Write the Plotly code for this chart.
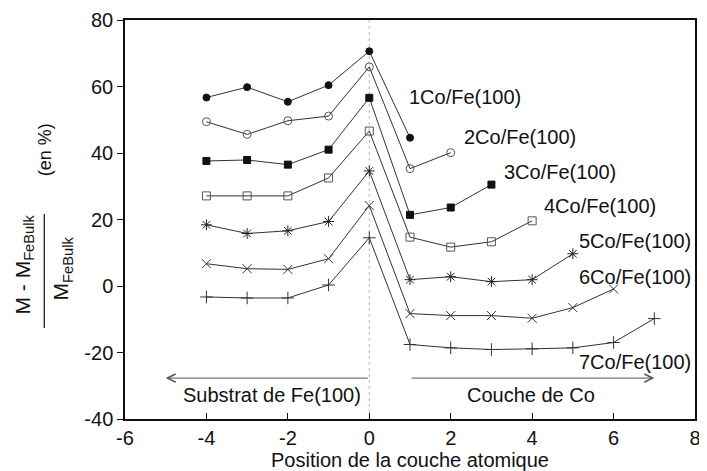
import plotly.graph_objects as go

# ---- data ----
positions = [
    [-4, -3, -2, -1, 0, 1],
    [-4, -3, -2, -1, 0, 1, 2],
    [-4, -3, -2, -1, 0, 1, 2, 3],
    [-4, -3, -2, -1, 0, 1, 2, 3, 4],
    [-4, -3, -2, -1, 0, 1, 2, 3, 4, 5],
    [-4, -3, -2, -1, 0, 1, 2, 3, 4, 5, 6],
    [-4, -3, -2, -1, 0, 1, 2, 3, 4, 5, 6, 7],
]
s1 = [56.7, 59.8, 55.4, 60.4, 70.6, 44.6]
s2 = [49.4, 45.6, 49.7, 51.1, 65.9, 35.3, 40.1]
s3 = [37.6, 37.9, 36.5, 41.0, 56.6, 21.4, 23.6, 30.5]
s4 = [27.1, 27.1, 27.1, 32.5, 46.6, 14.7, 11.7, 13.3, 19.6]
s5 = [18.4, 15.8, 16.6, 19.4, 34.6, 1.9, 2.8, 1.3, 1.9, 9.7]
s6 = [6.7, 5.2, 5.0, 8.2, 24.2, -8.3, -8.9, -8.9, -9.7, -6.5, -0.9]
s7 = [-3.3, -3.6, -3.6, 0.3, 14.5, -17.6, -18.6, -19.1, -18.9, -18.6, -17.0, -9.8]
series_values = [s1, s2, s3, s4, s5, s6, s7]
series_names = ["1Co/Fe(100)", "2Co/Fe(100)", "3Co/Fe(100)", "4Co/Fe(100)",
                "5Co/Fe(100)", "6Co/Fe(100)", "7Co/Fe(100)"]
x_ticks = [-6, -4, -2, 0, 2, 4, 6, 8]
x_ticktext = ["-6", "-4", "-2", "0", "2", "4", "6", "8"]
y_ticks = [-40, -20, 0, 20, 40, 60, 80]
y_ticktext = ["-40", "-20", "0", "20", "40", "60", "80"]

# ---- styles ----
symbols = ["circle", "circle-open", "square", "square-open",
           "asterisk-open", "x-thin-open", "cross-thin-open"]
msizes = [7, 8, 7, 8, 9, 9, 9]
mcolors = ["#111", "#555", "#111", "#555", "#222", "#333", "#333"]
label_pos = [(0.93, 56.8), (2.27, 44.8), (3.25, 34.3), (4.23, 24.1),
             (5.09, 13.5), (5.09, 2.7), (5.09, -22.9)]

FONT = "Liberation Sans, Arial, sans-serif"

fig = go.Figure()
for xs, ys, name, sym, ms, mc in zip(positions, series_values, series_names,
                                     symbols, msizes, mcolors):
    fig.add_trace(go.Scatter(
        x=xs, y=ys, name=name, mode="lines+markers",
        line=dict(color="#333", width=1),
        marker=dict(symbol=sym, size=ms, color=mc,
                    line=dict(color=mc, width=1)),
        showlegend=False,
    ))

annotations = []
for name, (lx, ly) in zip(series_names, label_pos):
    annotations.append(dict(x=lx, y=ly, xref="x", yref="y", text=name,
                            showarrow=False, xanchor="left", yanchor="middle",
                            font=dict(size=20, color="#111", family=FONT)))

# region arrows
annotations.append(dict(x=-5.0, y=-27.7, ax=0, ay=-27.7, xref="x", yref="y",
                        axref="x", ayref="y", text="", showarrow=True,
                        arrowhead=5, arrowsize=1.6, arrowwidth=1,
                        arrowcolor="#555"))
annotations.append(dict(x=7.0, y=-27.7, ax=1.0, ay=-27.7, xref="x", yref="y",
                        axref="x", ayref="y", text="", showarrow=True,
                        arrowhead=5, arrowsize=1.6, arrowwidth=1,
                        arrowcolor="#555"))
annotations.append(dict(x=-2.38, y=-32.8, xref="x", yref="y",
                        text="Substrat de Fe(100)", showarrow=False,
                        xanchor="center", yanchor="middle",
                        font=dict(size=20, color="#111", family=FONT)))
annotations.append(dict(x=3.98, y=-32.8, xref="x", yref="y",
                        text="Couche de Co", showarrow=False,
                        xanchor="center", yanchor="middle",
                        font=dict(size=20, color="#111", family=FONT)))

# y-axis fraction title
annotations.append(dict(x=-0.178, y=0.386, xref="paper", yref="paper",
                        text="M - M<sub>FeBulk</sub>", textangle=-90,
                        showarrow=False, xanchor="center", yanchor="middle",
                        font=dict(size=21, color="#111", family=FONT)))
annotations.append(dict(x=-0.110, y=0.378, xref="paper", yref="paper",
                        text="M<sub>FeBulk</sub>", textangle=-90,
                        showarrow=False, xanchor="center", yanchor="middle",
                        font=dict(size=21, color="#111", family=FONT)))
annotations.append(dict(x=-0.140, y=0.674, xref="paper", yref="paper",
                        text="(en %)", textangle=-90,
                        showarrow=False, xanchor="center", yanchor="middle",
                        font=dict(size=18, color="#111", family=FONT)))

shapes = [
    dict(type="line", xref="x", yref="y", x0=0, x1=0, y0=-40, y1=80,
         line=dict(color="#bbb", width=1, dash="dot"), layer="below"),
    dict(type="line", xref="paper", yref="paper", x0=-0.1416, x1=-0.1416,
         y0=0.228, y1=0.514, line=dict(color="#111", width=1.2)),
]

# the page body adds an 8px offset; the figure is sized to fit the window
fig.update_layout(
    width=699, height=463,
    margin=dict(l=117, r=12, t=12, b=52, autoexpand=False),
    paper_bgcolor="white", plot_bgcolor="white",
    font=dict(family=FONT, size=20, color="#111"),
    annotations=annotations, shapes=shapes,
    xaxis=dict(range=[-6, 8], tickvals=x_ticks, ticktext=x_ticktext,
               ticks="inside", ticklen=6, ticklabeloverflow="allow",
               tickcolor="#111", showline=True, linecolor="#111", linewidth=1.5,
               mirror=True, showgrid=False, zeroline=False,
               tickfont=dict(size=20),
               title=dict(text="Position de la couche atomique",
                          font=dict(size=20), standoff=0)),
    yaxis=dict(range=[-40, 80], tickvals=y_ticks, ticktext=y_ticktext,
               ticks="outside", ticklen=6,
               tickcolor="#111", showline=True, linecolor="#111", linewidth=1.5,
               mirror=True, showgrid=False, zeroline=False,
               tickfont=dict(size=20)),
)

fig.write_html("out.html")
